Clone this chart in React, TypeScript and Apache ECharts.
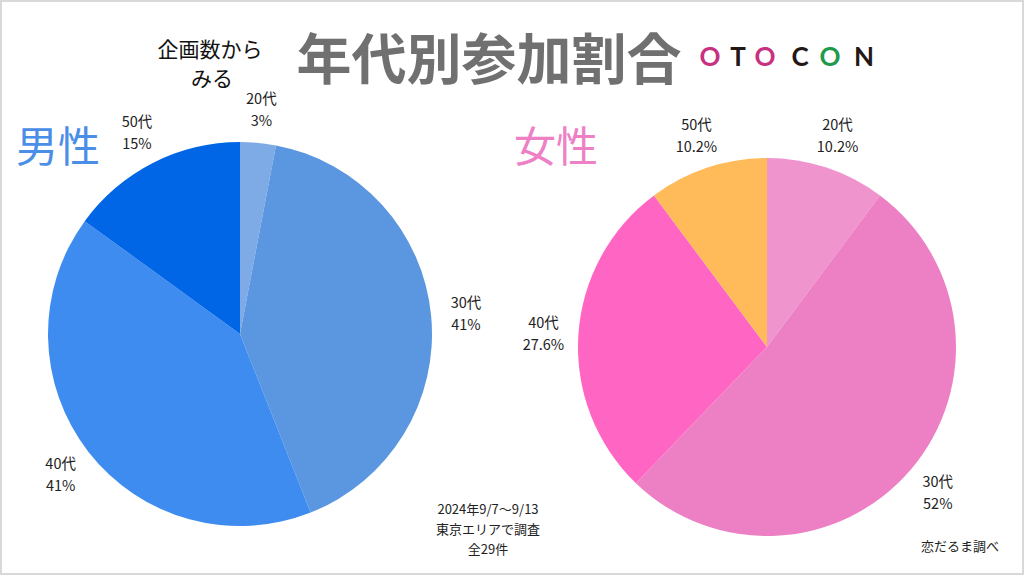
import React, { useEffect, useRef } from "react";
import * as echarts from "echarts";

const ageGroups = ["20代", "30代", "40代", "50代"];
const maleValues = [3, 41, 41, 15];
const femaleValues = [10.2, 52, 27.6, 10.2];
const maleColors = ["#7eaae6", "#5b96e0", "#3f8cf0", "#0066e6"];
const femaleColors = ["#ef94cd", "#ed80c4", "#ff66c4", "#ffbb5a"];
const surveyNotes = ["2024年9/7～9/13", "東京エリアで調査", "全29件"];
const logoLetters = ["O", "T", "O", "C", "O", "N"];
const logoColors = ["#c8317f", "#231815", "#c8317f", "#231815", "#1f9a4b", "#231815"];
const logoX = [710, 738, 765, 800, 830, 864];

const FONT = '"Noto Sans CJK JP", "Noto Sans", sans-serif';

function pieSeries(values: number[], colors: string[], center: [number, number], r: number) {
  const data = ageGroups.map((name, i) => ({ name, value: values[i], itemStyle: { color: colors[i] } }));
  const main = {
    type: "pie",
    center,
    radius: r,
    startAngle: 90,
    clockwise: true,
    silent: true,
    label: { show: false },
    labelLine: { show: false },
    itemStyle: { borderWidth: 0 },
    data,
  };
  const labels = {
    type: "pie",
    center,
    radius: [r + 24, r + 40],
    startAngle: 90,
    clockwise: true,
    silent: true,
    itemStyle: { color: "rgba(0,0,0,0)", borderWidth: 0 },
    label: {
      show: true,
      position: "inside",
      formatter: (p: any) => `${p.name}\n${p.value}%`,
      color: "#222",
      fontSize: 14.5,
      lineHeight: 22,
      fontFamily: FONT,
      align: "center",
    },
    labelLine: { show: false },
    data: ageGroups.map((name, i) => ({ name, value: values[i] })),
  };
  return [main, labels];
}

export default function App() {
  const ref = useRef<HTMLDivElement>(null);
  useEffect(() => {
    document.body.style.margin = "0";
    const chart = echarts.init(ref.current!, null, { renderer: "svg" });
    const graphic: any[] = [
      { type: "rect", shape: { x: 1, y: 1, width: 1022, height: 573 }, style: { fill: "none", stroke: "#d9d9d9", lineWidth: 2 }, silent: true },
      { type: "text", x: 489, y: 55, style: { text: "年代別参加割合", fontSize: 55, fontWeight: "bold", fill: "#707070", fontFamily: FONT, align: "center", verticalAlign: "middle" } },
      { type: "text", x: 210, y: 48, style: { text: "企画数から", fontSize: 21, fill: "#111", fontFamily: FONT, align: "center", verticalAlign: "middle" } },
      { type: "text", x: 212, y: 77, style: { text: "みる", fontSize: 21, fill: "#111", fontFamily: FONT, align: "center", verticalAlign: "middle" } },
      { type: "text", x: 58, y: 143, style: { text: "男性", fontSize: 42, fill: "#4a8ee8", fontFamily: FONT, align: "center", verticalAlign: "middle" } },
      { type: "text", x: 556, y: 143, style: { text: "女性", fontSize: 42, fill: "#ee80c6", fontFamily: FONT, align: "center", verticalAlign: "middle" } },
      { type: "text", x: 960, y: 545, style: { text: "恋だるま調べ", fontSize: 13, fill: "#222", fontFamily: FONT, align: "center", verticalAlign: "middle" } },
    ];
    surveyNotes.forEach((t, i) => {
      graphic.push({ type: "text", x: 488, y: 508 + i * 20, style: { text: t, fontSize: 13, fill: "#222", fontFamily: FONT, align: "center", verticalAlign: "middle" } });
    });
    logoLetters.forEach((t, i) => {
      graphic.push({ type: "text", x: logoX[i], y: 56, style: { text: t, fontSize: 26, fontWeight: "bold", fill: logoColors[i], fontFamily: 'Lato, "DejaVu Sans", sans-serif', align: "center", verticalAlign: "middle" } });
    });
    chart.setOption({
      animation: false,
      backgroundColor: "#ffffff",
      series: [
        ...pieSeries(maleValues, maleColors, [240, 334], 192),
        ...pieSeries(femaleValues, femaleColors, [767, 347], 189),
      ],
      graphic,
    });
    return () => chart.dispose();
  }, []);
  return <div ref={ref} style={{ position: "absolute", left: 0, top: 0, width: 1024, height: 576 }} />;
}
